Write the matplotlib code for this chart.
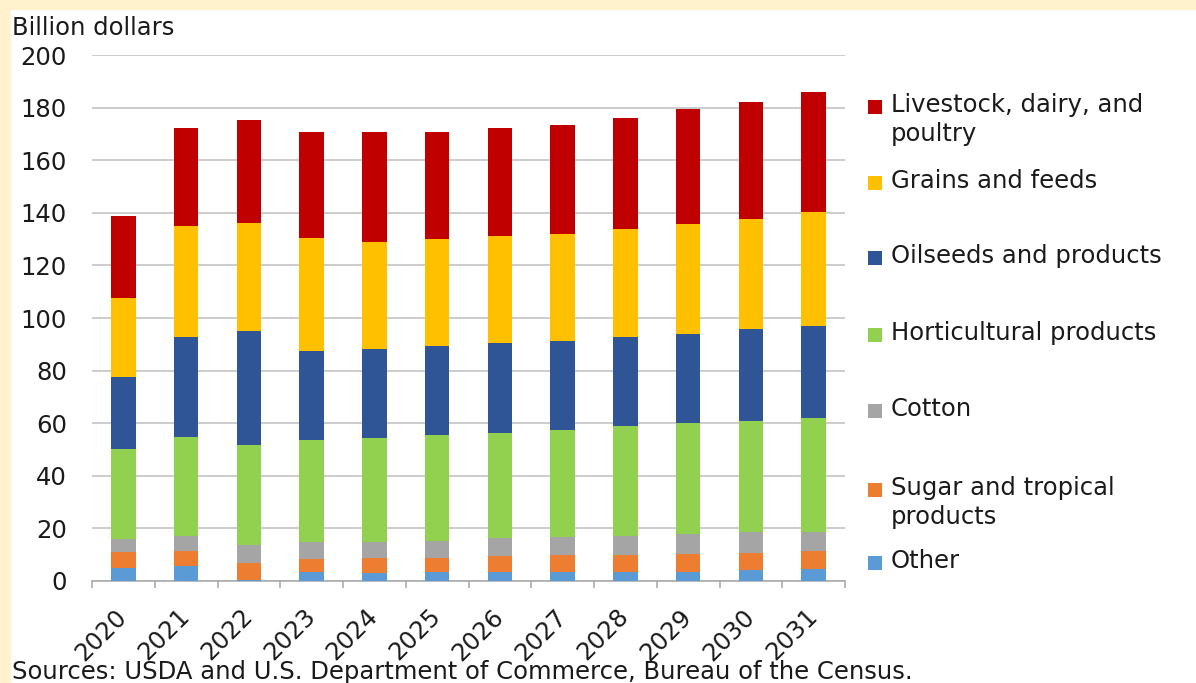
import numpy as np
import matplotlib.pyplot as plt
from matplotlib.patches import Rectangle

plt.rcParams['font.family'] = ['DejaVu Sans']

years = ['2020', '2021', '2022', '2023', '2024', '2025',
         '2026', '2027', '2028', '2029', '2030', '2031']

# billion dollars (bottom to top of each stack)
other = [4.8, 5.6, 0.5, 3.3, 2.9, 3.3, 3.5, 3.5, 3.5, 3.5, 4.0, 4.4]
sugar = [6.2, 5.7, 6.4, 5.1, 5.9, 5.5, 5.9, 6.2, 6.5, 6.6, 6.7, 6.9]
cotton = [5.0, 6.0, 6.9, 6.4, 6.0, 6.3, 7.0, 7.0, 7.3, 7.6, 7.9, 7.3]
hort = [34.3, 37.6, 37.8, 38.7, 39.4, 40.3, 39.8, 40.8, 41.6, 42.4, 42.2, 43.4]
oilseeds = [27.4, 37.8, 43.6, 34.0, 33.9, 34.0, 34.4, 33.8, 33.8, 33.7, 35.1, 35.1]
grains = [29.8, 42.4, 41.0, 43.0, 40.9, 40.5, 40.6, 40.5, 41.0, 41.9, 41.7, 43.2]
livestock = [31.4, 37.0, 39.2, 40.4, 41.9, 41.0, 40.9, 41.7, 42.3, 43.6, 44.4, 45.5]

series = [other, sugar, cotton, hort, oilseeds, grains, livestock]
names = ['Other', 'Sugar and tropical\nproducts', 'Cotton',
         'Horticultural products', 'Oilseeds and products',
         'Grains and feeds', 'Livestock, dairy, and\npoultry']
colors = ['#5B9BD5', '#ED7D31', '#A5A5A5', '#92D050', '#2F5597',
          '#FFC000', '#C00000']

W, H = 1196, 683
fig = plt.figure(figsize=(W / 100, H / 100), dpi=100)
fig.patch.set_facecolor('#FFF2CC')
fig.add_artist(Rectangle((11 / W, 0), 1 - 11 / W, 1 - 10 / H,
                         transform=fig.transFigure, facecolor='white',
                         edgecolor='none', zorder=-10))

ax = fig.add_axes([92 / W, 1 - 581 / H, (845 - 92) / W, (581 - 55) / H])
ax.set_facecolor('none')

x = np.arange(len(years))
bottom = np.zeros(len(years))
for vals, c in zip(series, colors):
    ax.bar(x, vals, width=0.39, bottom=bottom, color=c, edgecolor='none',
           zorder=3)
    bottom += np.array(vals)

txt = '#1a1a1a'
fs = 17.5
ax.set_xlim(-0.5, len(years) - 0.5)
ax.set_ylim(0, 200)
ax.set_yticks(range(0, 201, 20))
ax.tick_params(axis='y', length=0, pad=18, labelsize=fs, labelcolor=txt)
ax.yaxis.grid(True, color='#BFBFBF', linewidth=1.1, zorder=0)
for s in ['top', 'right', 'left']:
    ax.spines[s].set_visible(False)
ax.spines['bottom'].set_color('#A6A6A6')
ax.spines['bottom'].set_linewidth(1.1)

ax.set_xticks(x)
ax.set_xticklabels(years)
ax.set_xticks(np.arange(-0.5, len(years)), minor=True)
ax.tick_params(axis='x', which='major', length=0, pad=23, labelsize=fs,
               labelcolor=txt)
ax.tick_params(axis='x', which='minor', length=5, width=1.1,
               color='#A6A6A6')
plt.setp(ax.get_xticklabels(), rotation=45, ha='right', va='center',
         rotation_mode='anchor')

fig.text(12 / W, 1 - 35 / H, 'Billion dollars', fontsize=fs, color=txt,
         va='baseline')
fig.text(12 / W, 1 - 679 / H,
         'Sources: USDA and U.S. Department of Commerce, Bureau of the Census.',
         fontsize=fs, color=txt, va='baseline')

# legend on the right, top entry first
leg_y = [107, 183, 258, 335, 411, 490, 563]
for yy, name, c in zip(leg_y, names[::-1], colors[::-1]):
    fig.add_artist(Rectangle((868 / W, 1 - (yy + 7) / H), 14 / W, 14 / H,
                             transform=fig.transFigure, facecolor=c,
                             edgecolor='none'))
    fig.text(891 / W, 1 - (yy - 14) / H, name, fontsize=fs, color=txt,
             va='top', linespacing=1.25)

fig.savefig('out.png', dpi=100)
